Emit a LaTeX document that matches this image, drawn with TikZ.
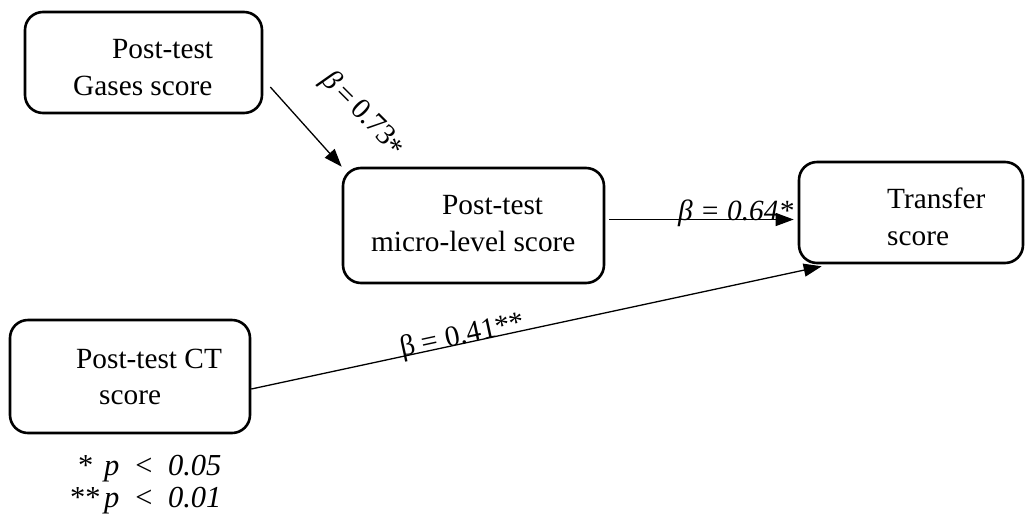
\documentclass[tikz,border=0pt]{standalone}
\usepackage{fontspec}
\setmainfont{Liberation Serif}
\usetikzlibrary{arrows.meta,calc}
\begin{document}
\begin{tikzpicture}[x=1pt,y=-1pt,
  box/.style={draw=black,line width=2.6pt,rounded corners=18pt,inner sep=0pt},
  txt/.style={anchor=base west,inner sep=0pt,font=\fontsize{29.3}{35}\selectfont},
  leg/.style={anchor=base west,inner sep=0pt,font=\fontsize{30.5}{35}\selectfont},
  arr/.style={line width=1.3pt,-{Triangle[length=18pt,width=13pt]}},
  lab/.style={inner sep=0pt,font=\fontsize{29.3}{35}\selectfont}]
\useasboundingbox (0,0) rectangle (1026,515);
% boxes
\node[box,minimum width=237pt,minimum height=101pt] (g) at (143.5,62.5) {};
\node[box,minimum width=261pt,minimum height=115pt] (m) at (473.5,225.5) {};
\node[box,minimum width=224pt,minimum height=101pt] (t) at (911,212.5) {};
\node[box,minimum width=240pt,minimum height=113pt] (c) at (130,376.5) {};
% box texts
\node[txt] (g1) at (112,58) {Post-test};
\node[txt] (g2) at (73,95) {Gases score};
\node[txt] (m1) at (442,214) {Post-test};
\node[txt] (m2) at (371,251) {micro-level score};
\node[txt] (t1) at (887,208) {Transfer};
\node[txt] (t2) at (887,245) {score};
\node[txt] (c1) at (76,368) {Post-test CT};
\node[txt] (c2) at (99,404) {score};
% connectors
\coordinate (gs) at ($(g.east)+(7,24.5)$);
\draw[arr] (gs) -- (m.north west);
\coordinate (ms) at ($(m.east)+(4,-6)$);
\draw[arr,shorten >=4pt] (ms) -- (ms -| t.west);
\coordinate (cs) at ($(c.east)+(0,12.5)$);
\coordinate (te) at ($(t.south west)+(24,2)$);
\draw[arr] (cs) -- (te);
% labels
\node[lab,rotate=-45] (l1) at (363,114) {\textit{β}\,=\,0.73\raisebox{-0.35ex}{*}};
\node[lab,anchor=base west] (l2) at (678,220) {\textit{β = 0.64*}};
\node[lab,anchor=base west,rotate=12.2] (l3) at (402,357) {β = 0.41**};
% legend
\node[leg] (s1) at (78,475) {*};
\node[leg] (s2) at (70,507) {**};
\node[leg] (p1) at (104,475) {\textit{p}\hspace{14pt}\textit{<}\hspace{14pt}\textit{0.05}};
\node[leg] (p2) at (104,507) {\textit{p}\hspace{14pt}\textit{<}\hspace{14pt}\textit{0.01}};
\end{tikzpicture}
\end{document}
